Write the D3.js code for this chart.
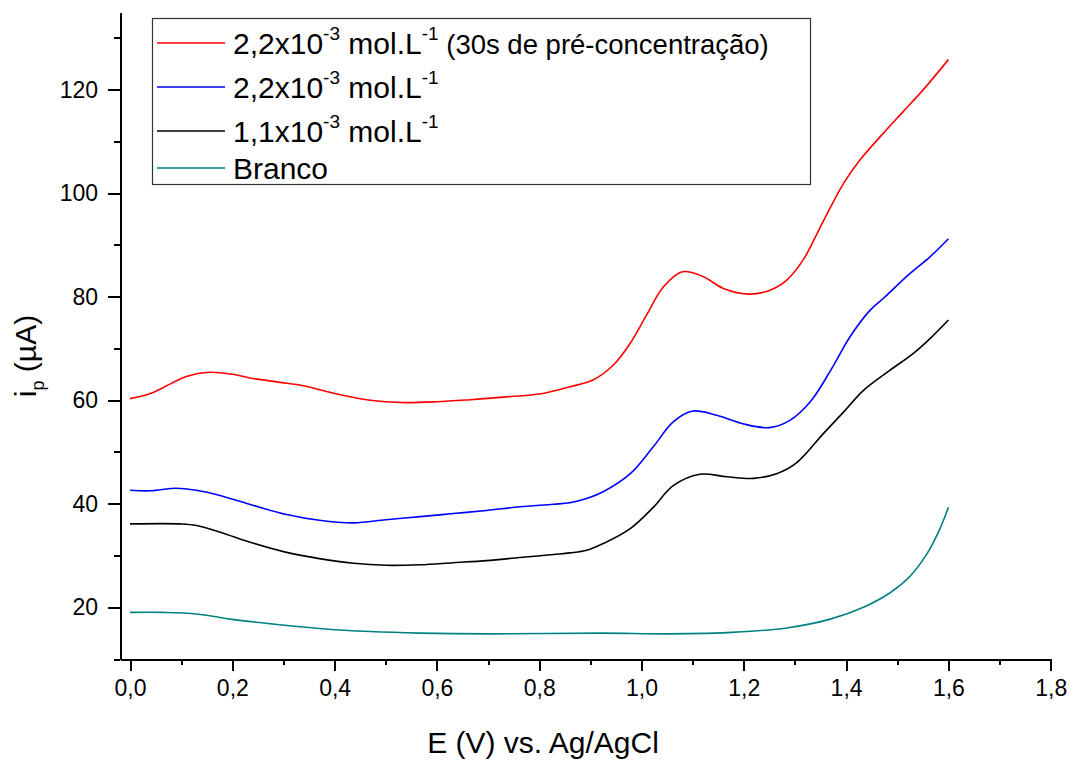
<!DOCTYPE html>
<html>
<head>
<meta charset="utf-8">
<script src="https://cdn.jsdelivr.net/npm/d3@7"></script>
<style>
  body { margin: 0; background: #fff; }
  svg { display: block; font-family: "Liberation Sans", Arial, sans-serif; }
  .axis path, .axis line { stroke: #000; stroke-width: 2px; shape-rendering: crispEdges; }
  .axis text { font-size: 23px; fill: #000; font-family: "Liberation Sans", Arial, sans-serif; }
</style>
</head>
<body>
<svg id="chart" width="1074" height="763"></svg>
<script>
// series: [E (V), ip (uA)]
var preConc = [[0,60.3],[0.04,61.3],[0.08,63.2],[0.11,64.6],[0.155,65.4],[0.2,65.0],[0.24,64.2],[0.29,63.5],
  [0.34,62.8],[0.4,61.3],[0.47,60.0],[0.53,59.55],[0.6,59.7],[0.665,60.1],[0.73,60.6],[0.8,61.2],[0.86,62.6],
  [0.905,63.9],[0.945,66.8],[0.978,71.0],[1.01,76.5],[1.043,81.9],[1.08,84.8],[1.12,83.9],[1.16,81.6],[1.21,80.5],
  [1.25,81.2],[1.284,83.2],[1.316,87.1],[1.355,94.5],[1.395,101.9],[1.427,106.4],[1.473,111.6],[1.512,115.8],
  [1.551,120.0],[1.6,125.8]];
var conc22 = [[0,42.6],[0.04,42.5],[0.09,43.0],[0.13,42.6],[0.176,41.6],[0.24,39.7],[0.306,37.9],[0.37,36.8],
  [0.437,36.3],[0.5,36.9],[0.567,37.5],[0.632,38.1],[0.697,38.7],[0.762,39.4],[0.828,39.9],[0.86,40.2],[0.893,41.0],
  [0.925,42.3],[0.978,45.8],[1.023,51.0],[1.062,55.8],[1.1,57.9],[1.147,57.1],[1.2,55.4],[1.25,54.7],[1.29,56.1],
  [1.33,59.7],[1.37,65.8],[1.408,72.3],[1.447,77.4],[1.473,79.7],[1.525,84.5],[1.564,87.7],[1.6,91.2]];
var conc11 = [[0,36.1],[0.1,36.1],[0.13,35.8],[0.176,34.5],[0.24,32.4],[0.306,30.6],[0.37,29.4],[0.437,28.5],
  [0.5,28.1],[0.567,28.2],[0.632,28.6],[0.697,29.0],[0.762,29.6],[0.828,30.2],[0.86,30.5],[0.893,31.0],[0.925,32.3],
  [0.978,35.2],[1.023,39.3],[1.062,43.5],[1.114,45.7],[1.167,45.2],[1.219,44.9],[1.264,45.8],[1.303,47.9],
  [1.355,53.5],[1.395,57.7],[1.434,61.9],[1.486,65.8],[1.531,69.0],[1.564,71.9],[1.6,75.5]];
var branco = [[0,19.0],[0.065,19.0],[0.13,18.7],[0.196,17.7],[0.274,16.8],[0.37,15.9],[0.47,15.3],[0.567,15.0],
  [0.7,14.85],[0.92,15.0],[1.056,14.85],[1.186,15.2],[1.284,16.0],[1.369,17.7],[1.434,20.0],[1.486,22.8],
  [1.525,26.0],[1.558,30.3],[1.584,35.3],[1.6,39.3]];

var xMajor = [0,0.2,0.4,0.6,0.8,1.0,1.2,1.4,1.6,1.8];
var xMinor = [0.1,0.3,0.5,0.7,0.9,1.1,1.3,1.5,1.7];
var yMajor = [20,40,60,80,100,120];
var yMinor = [10,30,50,70,90,110,130];

var svg = d3.select('#chart');

var x = d3.scaleLinear().domain([-0.0196, 1.8]).range([120, 1050.7]);
var y = d3.scaleLinear().domain([10, 135]).range([659, 12]);

// axes
svg.append('g').attr('class', 'axis').attr('transform', 'translate(0,659)')
  .call(d3.axisBottom(x).tickValues(xMajor).tickSize(12).tickSizeOuter(0).tickPadding(9)
    .tickFormat(function(d) { return d3.format('.1f')(d).replace('.', ','); }));
svg.append('g').attr('class', 'axis').attr('transform', 'translate(0,659)')
  .call(d3.axisBottom(x).tickValues(xMinor).tickSize(6).tickSizeOuter(0).tickFormat(''));
svg.append('g').attr('class', 'axis').attr('transform', 'translate(120,0)')
  .call(d3.axisLeft(y).tickValues(yMajor).tickSize(12).tickSizeOuter(0).tickPadding(10));
svg.append('g').attr('class', 'axis').attr('transform', 'translate(120,0)')
  .call(d3.axisLeft(y).tickValues(yMinor).tickSize(6).tickSizeOuter(0).tickFormat(''));

// lines
var line = d3.line()
  .x(function(d) { return x(d[0]); })
  .y(function(d) { return y(d[1]); })
  .curve(d3.curveCatmullRom.alpha(0.5));

var series = [
  {data: branco, color: '#008080'},
  {data: conc11, color: '#000000'},
  {data: conc22, color: '#0000ff'},
  {data: preConc, color: '#ff0000'}
];
svg.selectAll('path.serie').data(series).enter().append('path')
  .attr('class', 'serie')
  .attr('d', function(d) { return line(d.data); })
  .attr('fill', 'none')
  .attr('stroke', function(d) { return d.color; })
  .attr('stroke-width', 1.6);

// legend
svg.append('rect')
  .attr('x', 152.5).attr('y', 18.5).attr('width', 658).attr('height', 166)
  .attr('fill', '#fff').attr('stroke', '#333').attr('stroke-width', 1.2);

var legend = [
  {y: 43, color: '#ff0000', base: '2,2x10', extra: ' (30s de pré-concentração)'},
  {y: 87, color: '#0000ff', base: '2,2x10', extra: ''},
  {y: 131, color: '#000000', base: '1,1x10', extra: ''},
  {y: 168, color: '#008080', base: 'Branco', extra: null}
];
legend.forEach(function(l) {
  svg.append('line').attr('x1', 157).attr('x2', 225).attr('y1', l.y).attr('y2', l.y)
    .attr('stroke', l.color).attr('stroke-width', 1.5);
  var t = svg.append('text').attr('x', 233).attr('y', l.y + 10.5)
    .attr('font-size', 30).attr('fill', '#000');
  t.append('tspan').text(l.base);
  if (l.extra === null) return;
  t.append('tspan').attr('font-size', 19).attr('dy', -14).text('-3');
  t.append('tspan').attr('dy', 14).text(' mol.L');
  t.append('tspan').attr('font-size', 19).attr('dy', -14).text('-1');
  if (l.extra) t.append('tspan').attr('font-size', 27.5).attr('dy', 14).text(l.extra);
});

// axis titles
svg.append('text').attr('x', 543).attr('y', 753).attr('text-anchor', 'middle')
  .attr('font-size', 30).text('E (V) vs. Ag/AgCl');

var yt = svg.append('text').attr('transform', 'translate(36,356) rotate(-90)')
  .attr('text-anchor', 'middle').attr('font-size', 30);
yt.append('tspan').text('i');
yt.append('tspan').attr('font-size', 18).attr('dy', 8).text('p');
yt.append('tspan').attr('dy', -8).text(' (µA)');
</script>
</body>
</html>
